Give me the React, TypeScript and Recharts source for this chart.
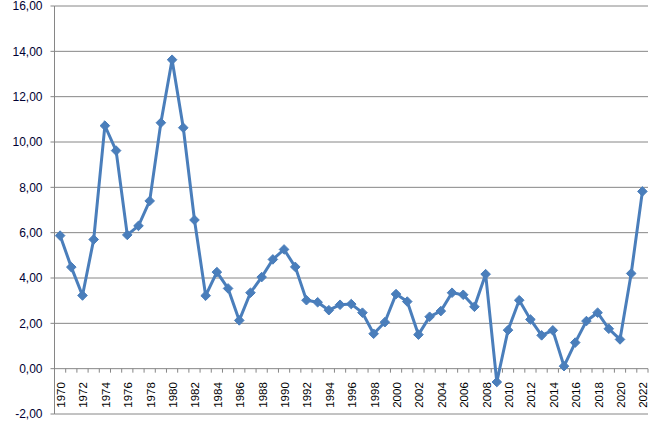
import { CartesianGrid, Line, LineChart, XAxis, YAxis } from "recharts";

const years = [
  1970, 1971, 1972, 1973, 1974, 1975, 1976, 1977, 1978, 1979,
  1980, 1981, 1982, 1983, 1984, 1985, 1986, 1987, 1988, 1989,
  1990, 1991, 1992, 1993, 1994, 1995, 1996, 1997, 1998, 1999,
  2000, 2001, 2002, 2003, 2004, 2005, 2006, 2007, 2008, 2009,
  2010, 2011, 2012, 2013, 2014, 2015, 2016, 2017, 2018, 2019,
  2020, 2021, 2022,
];

const rates = [
  5.87, 4.48, 3.23, 5.7, 10.72, 9.62, 5.9, 6.3, 7.4, 10.85,
  13.63, 10.63, 6.56, 3.22, 4.26, 3.54, 2.13, 3.35, 4.04, 4.82,
  5.26, 4.49, 3.02, 2.93, 2.58, 2.82, 2.85, 2.47, 1.54, 2.05,
  3.29, 2.96, 1.5, 2.29, 2.54, 3.35, 3.26, 2.73, 4.17, -0.59,
  1.7, 3.02, 2.17, 1.47, 1.69, 0.11, 1.15, 2.1, 2.47, 1.76,
  1.29, 4.2, 7.82,
];

const yTicks = [-2, 0, 2, 4, 6, 8, 10, 12, 14, 16];

const data = years.map((year, i) => ({ year, rate: rates[i] }));

const W = 655;
const H = 424;
const X_AXIS_H = 10;
const M = { top: 6, right: 7, bottom: 0, left: 0 };
const Y_AXIS_W = 54.5;
const plotW = W - M.left - M.right - Y_AXIS_W;
const plotH = H - M.top - M.bottom - X_AXIS_H;
const band = plotW / years.length;
// the category axis crosses at 0, not at the bottom (-2)
const zeroOffset = (plotH * (0 - yTicks[0])) / (yTicks[yTicks.length - 1] - yTicks[0]);

const BLUE = "#4a7ebb";
const GRID = "#868686";
const FONT = "'Liberation Sans', Arial, sans-serif";

const fmt = (v: number) => v.toFixed(2).replace(".", ",");

function YearTick(props: any) {
  const { x, y, index } = props;
  const zy = y - zeroOffset;
  const left = x - band / 2;
  const isLast = index === years.length - 1;
  const ty = zy + 13.5;
  return (
    <g>
      <line x1={left} y1={zy} x2={left} y2={zy + 4} stroke={GRID} />
      {isLast && <line x1={left + band} y1={zy} x2={left + band} y2={zy + 4} stroke={GRID} />}
      {index % 2 === 0 && (
        <text
          x={x + 1}
          y={ty}
          transform={`rotate(-90, ${x + 1}, ${ty})`}
          textAnchor="end"
          dominantBaseline="central"
          fontSize={11.5}
          fontFamily={FONT}
          fill="#000"
        >
          {years[index]}
        </text>
      )}
    </g>
  );
}

function Diamond(props: any) {
  const { cx, cy } = props;
  if (cx == null || cy == null) return null;
  const r = 4.8;
  return (
    <path
      d={`M${cx},${cy - r}L${cx + r},${cy}L${cx},${cy + r}L${cx - r},${cy}Z`}
      fill={BLUE}
      stroke={BLUE}
      strokeWidth={1}
    />
  );
}

export default function App() {
  return (
    <div style={{ position: "absolute", left: 0, top: 0, width: W, height: H, background: "#fff" }}>
      <LineChart width={W} height={H} data={data} margin={M}>
        <CartesianGrid horizontal vertical={false} stroke={GRID} />
        <XAxis
          dataKey="year"
          type="category"
          scale="band"
          interval={0}
          height={X_AXIS_H}
          axisLine={false}
          tickLine={false}
          tickSize={0}
          tickMargin={0}
          tick={(p: any) => <YearTick {...p} />}
        />
        <YAxis
          domain={[yTicks[0], yTicks[yTicks.length - 1]]}
          ticks={yTicks}
          width={Y_AXIS_W}
          tickFormatter={fmt}
          tickSize={4}
          tickMargin={8}
          tickLine={{ stroke: GRID }}
          axisLine={{ stroke: GRID }}
          tick={{ fontSize: 12, fill: "#000033", fontFamily: FONT }}
          interval={0}
        />
        <Line
          dataKey="rate"
          stroke={BLUE}
          strokeWidth={3}
          dot={<Diamond />}
          activeDot={false}
          isAnimationActive={false}
        />
      </LineChart>
    </div>
  );
}
